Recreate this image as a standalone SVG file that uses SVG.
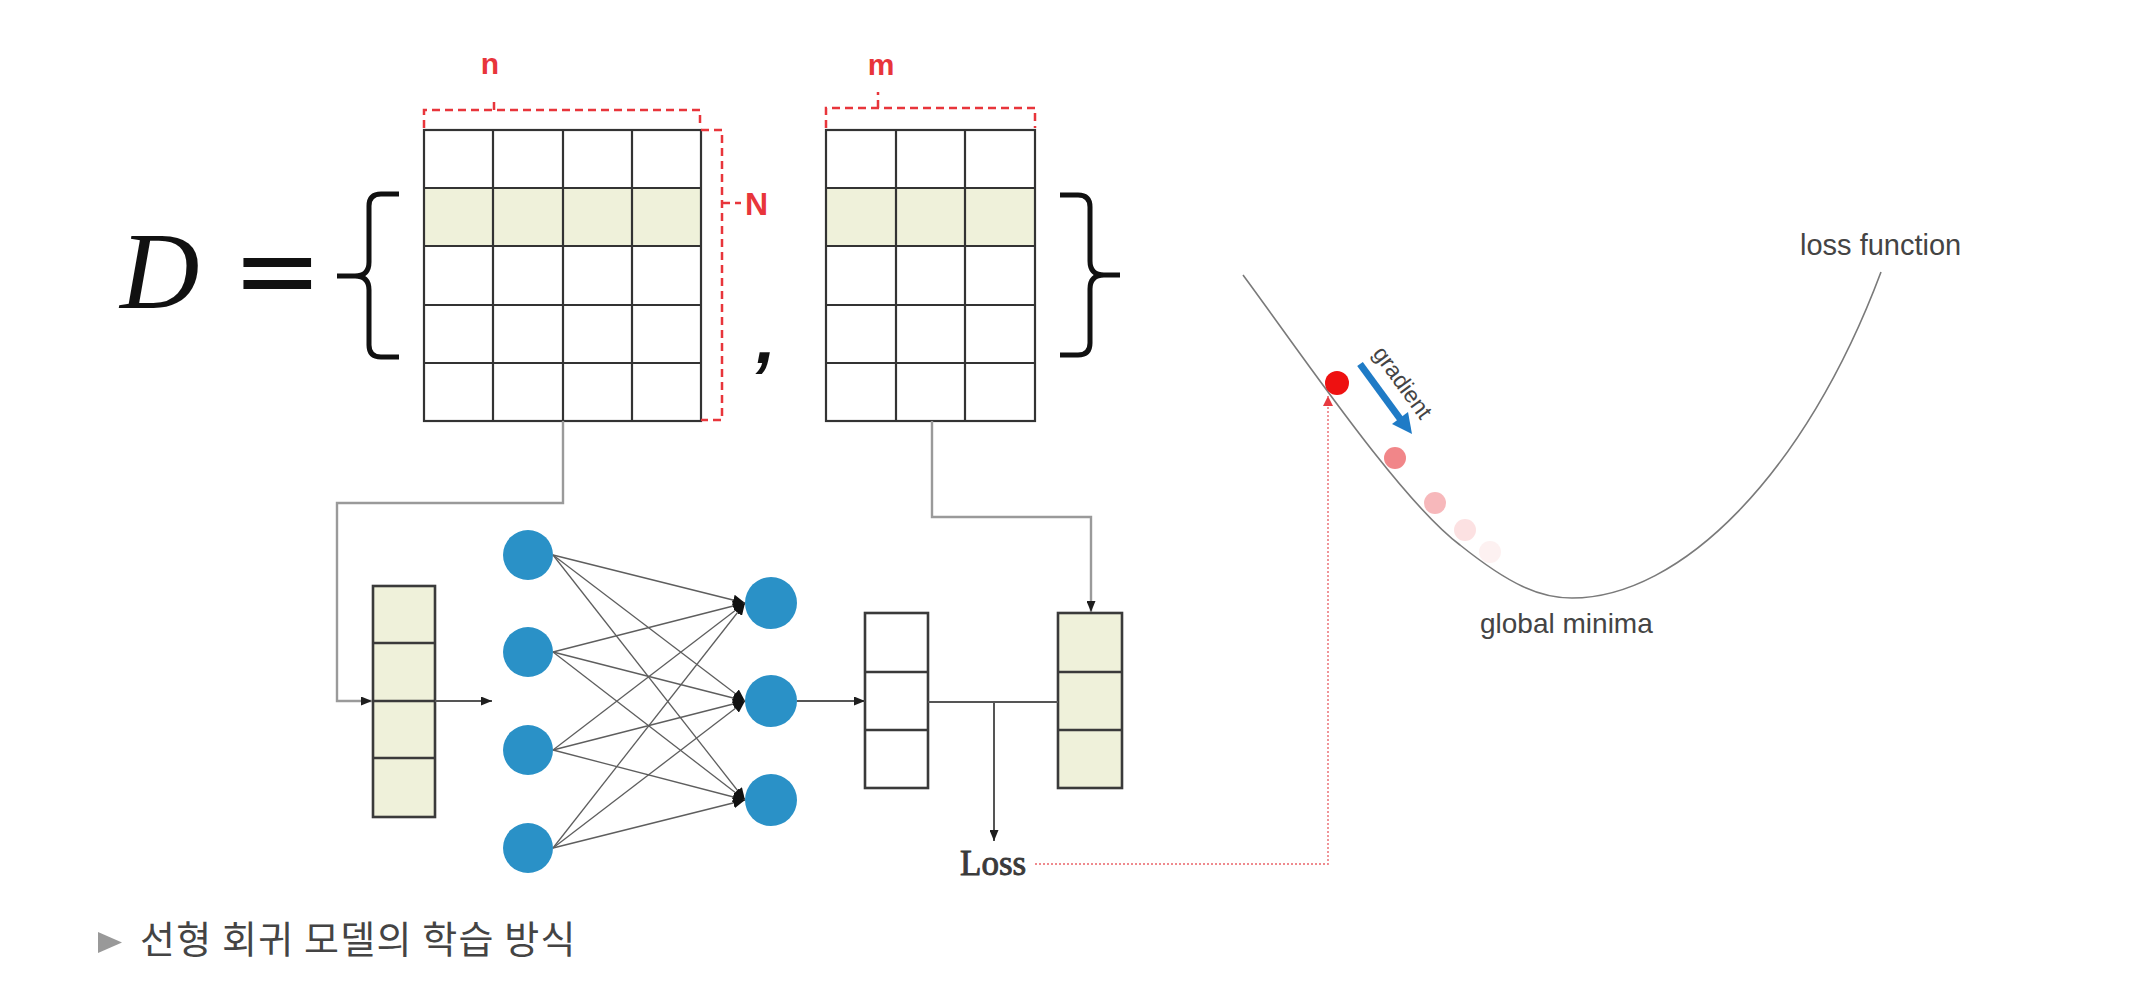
<svg xmlns="http://www.w3.org/2000/svg" width="2144" height="999" viewBox="0 0 2144 999">
  <style>
    .grid { fill: none; stroke: #333; stroke-width: 2.2; }
    .hl { fill: #eff1da; }
    .vec { stroke: #3a3a3a; stroke-width: 2.6; }
    .dash { fill: none; stroke: #e8353b; stroke-width: 2.5; stroke-dasharray: 8 5; }
    .lbl { font-family: "Liberation Sans", Arial, sans-serif; font-weight: bold; fill: #e8353b; }
    .brace { fill: none; stroke: #111; stroke-width: 5; stroke-linejoin: round; }
    .feed { fill: none; stroke: #9a9a9a; stroke-width: 2.4; }
    .flow { fill: none; stroke: #555; stroke-width: 2; }
    .edge { fill: none; stroke: #5e5e5e; stroke-width: 1.3; }
    .node { fill: #2a91c7; }
    .note { font-family: "Liberation Sans", Arial, sans-serif; fill: #444; }
  </style>
  <defs>
    <marker id="arr" markerUnits="userSpaceOnUse" markerWidth="11" markerHeight="9" refX="11" refY="4.5" orient="auto">
      <path d="M0,0 L11,4.5 L0,9 z" fill="#1e1e1e"/>
    </marker>
    <marker id="arrNN" markerUnits="userSpaceOnUse" markerWidth="12" markerHeight="11" refX="12" refY="5.5" orient="auto">
      <path d="M0,0 L12,5.5 L0,11 z" fill="#111"/>
    </marker>
    <marker id="arrRed" markerUnits="userSpaceOnUse" markerWidth="10" markerHeight="10" refX="10" refY="5" orient="auto">
      <path d="M0,0 L10,5 L0,10 z" fill="#e83a40"/>
    </marker>
  </defs>
  <rect width="2144" height="999" fill="#ffffff"/>

  <!-- dataset notation D = { X , Y } -->
  <g id="dataset-symbol">
    <text x="120" y="308" font-family="Liberation Serif, serif" font-style="italic" font-size="110" fill="#111">D</text>
    <text x="232" y="308" font-family="DejaVu Sans, sans-serif" font-size="108" fill="#111">=</text>
    <path class="brace" d="M399,194 H381 Q369,194 369,206 V262 Q369,276 355,276 H337 M355,276 Q369,276 369,290 V345 Q369,357 381,357 H399"/>
    <text x="756" y="363" font-family="Liberation Sans, sans-serif" font-weight="bold" font-style="italic" font-size="72" fill="#111">,</text>
    <path class="brace" d="M1060,195 H1078 Q1090,195 1090,207 V261 Q1090,275 1104,275 H1120 M1104,275 Q1090,275 1090,289 V343 Q1090,355 1078,355 H1060"/>
  </g>

  <!-- input matrix X : N x n -->
  <g id="matrix-x">
    <rect class="hl" x="424" y="188" width="277" height="58"/>
    <rect class="grid" x="424" y="130" width="277" height="291"/>
    <path class="grid" d="M493,130 V421 M563,130 V421 M632,130 V421 M424,188 H701 M424,246 H701 M424,305 H701 M424,363 H701"/>
    <path class="dash" d="M424,128 V110 H700 V128 M494,110 V99"/>
    <text class="lbl" x="490" y="74" font-size="30" text-anchor="middle">n</text>
    <path class="dash" d="M701,130 H722 V420 H701 M722,203 H741"/>
    <text class="lbl" x="745" y="215" font-size="32">N</text>
  </g>

  <!-- target matrix Y : N x m -->
  <g id="matrix-y">
    <rect class="hl" x="826" y="188" width="209" height="58"/>
    <rect class="grid" x="826" y="130" width="209" height="291"/>
    <path class="grid" d="M896,130 V421 M965,130 V421 M826,188 H1035 M826,246 H1035 M826,305 H1035 M826,363 H1035"/>
    <path class="dash" d="M826,128 V108 H1035 V128 M878,108 V92"/>
    <text class="lbl" x="881" y="75" font-size="30" text-anchor="middle">m</text>
  </g>

  <!-- single sample x_i -->
  <g id="input-vector">
    <rect class="hl vec" x="373" y="586" width="62" height="231"/>
    <path class="vec" d="M373,643 H435 M373,701 H435 M373,758 H435"/>
  </g>

  <!-- prediction -->
  <g id="output-vector">
    <rect class="vec" fill="#ffffff" x="865" y="613" width="63" height="175"/>
    <path class="vec" d="M865,672 H928 M865,730 H928"/>
  </g>

  <!-- label y_i -->
  <g id="target-vector">
    <rect class="hl vec" x="1058" y="613" width="64" height="175"/>
    <path class="vec" d="M1058,672 H1122 M1058,730 H1122"/>
  </g>

  <!-- network weights -->
  <g id="nn-edges">
    <path class="edge" marker-end="url(#arrNN)" d="M553,555 L745,603"/>
    <path class="edge" marker-end="url(#arrNN)" d="M553,555 L745,701"/>
    <path class="edge" marker-end="url(#arrNN)" d="M553,555 L745,800"/>
    <path class="edge" marker-end="url(#arrNN)" d="M553,652 L745,603"/>
    <path class="edge" marker-end="url(#arrNN)" d="M553,652 L745,701"/>
    <path class="edge" marker-end="url(#arrNN)" d="M553,652 L745,800"/>
    <path class="edge" marker-end="url(#arrNN)" d="M553,750 L745,603"/>
    <path class="edge" marker-end="url(#arrNN)" d="M553,750 L745,701"/>
    <path class="edge" marker-end="url(#arrNN)" d="M553,750 L745,800"/>
    <path class="edge" marker-end="url(#arrNN)" d="M553,848 L745,603"/>
    <path class="edge" marker-end="url(#arrNN)" d="M553,848 L745,701"/>
    <path class="edge" marker-end="url(#arrNN)" d="M553,848 L745,800"/>
  </g>

  <!-- input layer -->
  <g id="input-layer">
    <circle class="node" cx="528" cy="555" r="25"/>
    <circle class="node" cx="528" cy="652" r="25"/>
    <circle class="node" cx="528" cy="750" r="25"/>
    <circle class="node" cx="528" cy="848" r="25"/>
  </g>

  <!-- output layer -->
  <g id="output-layer">
    <circle class="node" cx="771" cy="603" r="26"/>
    <circle class="node" cx="771" cy="701" r="26"/>
    <circle class="node" cx="771" cy="800" r="26"/>
  </g>

  <g id="loss-label">
    <text x="960" y="875" font-family="Liberation Serif, serif" font-size="35" fill="#3a3a3a" stroke="#3a3a3a" stroke-width="0.9">Loss</text>
  </g>

  <!-- loss surface -->
  <g id="loss-curve">
    <path d="M1243,275 C1300,352 1400,500 1460,545 C1510,585 1540,598 1572,598 C1680,598 1805,475 1881,272" fill="none" stroke="#7a7a7a" stroke-width="1.6"/>
    <circle cx="1490" cy="552" r="11" fill="#e8353b" opacity="0.07"/>
    <circle cx="1465" cy="530" r="11" fill="#e8353b" opacity="0.15"/>
    <circle cx="1435" cy="503" r="11" fill="#e8353b" opacity="0.35"/>
    <circle cx="1395" cy="458" r="11" fill="#e8353b" opacity="0.6"/>
    <circle cx="1337" cy="383" r="12" fill="#ee1111"/>
    <text class="note" x="1800" y="255" font-size="29">loss function</text>
    <text class="note" x="1480" y="633" font-size="28">global minima</text>
  </g>

  <g id="gradient-arrow">
    <path d="M1360,364 L1401,420" stroke="#1f7bc6" stroke-width="7" fill="none"/>
    <polygon points="1412,434 1392,424 1408,412" fill="#1f7bc6"/>
    <text class="note" transform="translate(1402,383) rotate(54)" x="0" y="7" font-size="23" text-anchor="middle">gradient</text>
  </g>

  <!-- data flow -->
  <g id="connectors">
    <path class="feed" d="M563,421 V503 H337 V701 H372" marker-end="url(#arr)"/>
    <path class="flow" d="M435,701 H492" marker-end="url(#arr)"/>
    <path class="feed" d="M932,421 V517 H1091 V612" marker-end="url(#arr)"/>
    <path class="flow" d="M797,701 H865" marker-end="url(#arr)"/>
    <path class="flow" d="M928,702 H1058"/>
    <path class="flow" d="M994,702 V841" marker-end="url(#arr)"/>
    <path d="M1035,864 H1328 V396" fill="none" stroke="#ef8a8e" stroke-width="1.8" stroke-dasharray="2 2" marker-end="url(#arrRed)"/>
  </g>

  <!-- caption -->
  <g id="caption">
    <polygon points="98,932 122,942.5 98,953" fill="#999999"/>
    <text x="140" y="953" font-family="Noto Sans CJK KR, Noto Sans, sans-serif" font-size="38" letter-spacing="1.2" fill="#444">선형 회귀 모델의 학습 방식</text>
  </g>
</svg>
